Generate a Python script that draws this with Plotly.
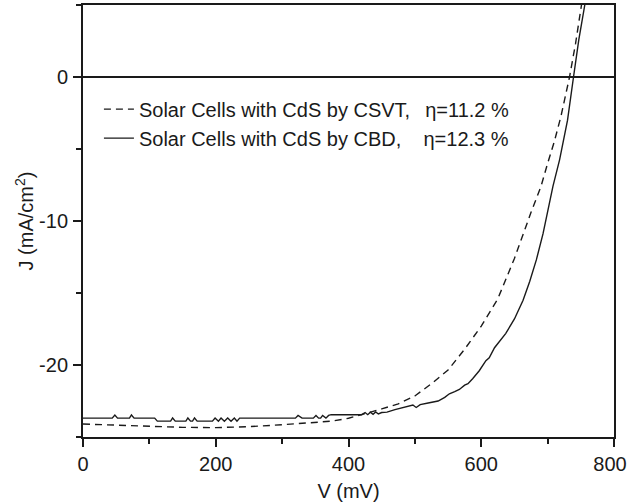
import plotly.graph_objects as go

# CSVT (dashed) curve
v_csvt = [0, 50, 100, 150, 200, 250, 300, 350, 375, 400, 425, 450, 475, 500, 525,
          550, 575, 600, 625, 650, 675, 690, 700, 710, 720, 733, 742, 751]
j_csvt = [-24.10, -24.18, -24.25, -24.33, -24.35, -24.28, -24.15, -24.0, -23.9, -23.7,
          -23.4, -23.05, -22.7, -22.15, -21.3, -20.35, -18.9, -17.3, -15.4, -12.6,
          -9.4, -7.6, -6.0, -4.5, -2.75, 0.0, 2.3, 5.0]

# CBD (solid) curve
v_cbd = [0, 44, 48, 52, 70, 73, 77, 108, 112, 132, 135, 139, 155, 158, 162, 165, 168, 172,
         195, 199, 204, 208, 213, 218, 223, 228, 232, 236, 320, 324, 330, 347, 351, 355,
         358, 361, 366, 370, 374, 420, 425, 429, 433, 437, 441, 445, 450, 458, 470, 477,
         490, 497, 502, 508, 520, 535, 545, 552, 560, 567, 575, 580, 587, 597, 607, 612,
         620, 630, 637, 650, 663, 673, 683, 693, 700, 708, 718, 730, 739, 747, 756]
j_cbd = [-23.69, -23.69, -23.47, -23.69, -23.69, -23.47, -23.69, -23.69, -23.9, -23.9,
         -23.68, -23.9, -23.9, -23.68, -23.9, -23.9, -23.68, -23.9, -23.9, -23.68, -23.9,
         -23.68, -23.9, -23.68, -23.9, -23.68, -23.9, -23.69, -23.69, -23.5, -23.69,
         -23.69, -23.5, -23.69, -23.69, -23.5, -23.69, -23.5, -23.45, -23.45, -23.3,
         -23.45, -23.28, -23.42, -23.26, -23.4, -23.3, -23.27, -23.1, -23.03, -22.9,
         -22.78, -22.95, -22.75, -22.64, -22.5, -22.25, -22.0, -21.85, -21.7, -21.4,
         -21.3, -20.95, -20.4, -19.7, -19.5, -18.8, -18.2, -17.8, -16.8, -15.5, -14.2,
         -12.7, -10.9, -9.3, -7.6, -5.75, -3.0, 0.0, 2.6, 5.0]

name_csvt = "Solar Cells with CdS by CSVT,\u00a0\u00a0\u2009η=11.2 %"
name_cbd = "Solar Cells with CdS by CBD,\u00a0\u00a0\u00a0\u00a0η=12.3 %"

x_ticks = [0, 200, 400, 600, 800]
x_tick_text = ["0", "200", "400", "600", "800\u2009\u2009"]
y_ticks = [-20, -10, 0]
y_tick_text = ["-20", "-10", "0"]

FONT = "Liberation Sans, Arial, sans-serif"
INK = "#1a1a1a"
FS = 20

fig = go.Figure()
fig.add_trace(go.Scatter(x=v_csvt, y=j_csvt, mode="lines", name=name_csvt,
                         line=dict(color=INK, width=1.4, dash="7px,5px")))
fig.add_trace(go.Scatter(x=v_cbd, y=j_cbd, mode="lines", name=name_cbd,
                         line=dict(color=INK, width=1.4)))

fig.update_layout(
    width=629, height=502,
    margin=dict(l=83, r=15, t=5, b=65, autoexpand=False),
    paper_bgcolor="white", plot_bgcolor="white",
    font=dict(family=FONT, size=FS, color=INK),
    showlegend=True,
    legend=dict(x=0.03, y=0.804, xanchor="left", yanchor="top",
                bgcolor="rgba(0,0,0,0)", borderwidth=0,
                font=dict(family=FONT, size=FS, color=INK),
                traceorder="normal"),
    xaxis=dict(range=[0, 800], tickvals=x_ticks, ticktext=x_tick_text,
               showgrid=False, zeroline=False,
               automargin=False, ticklabeloverflow="allow",
               showline=True, linecolor=INK, linewidth=2, mirror=True,
               ticks="outside", ticklen=8, tickwidth=2, tickcolor=INK,
               minor=dict(tickvals=[100, 300, 500, 700], ticks="outside", ticklen=5,
                          tickwidth=2, tickcolor=INK),
               title=dict(text="V (mV)", standoff=10, font=dict(size=FS)),
               ticklabelstandoff=0),
    yaxis=dict(range=[-25, 5], tickvals=y_ticks, ticktext=y_tick_text, showgrid=False,
               automargin=False, ticklabeloverflow="allow",
               zeroline=True, zerolinecolor=INK, zerolinewidth=2,
               showline=True, linecolor=INK, linewidth=2, mirror=True,
               ticks="outside", ticklen=8, tickwidth=2, tickcolor=INK,
               minor=dict(tickvals=[-25, -15, -5, 5], ticks="outside", ticklen=5,
                          tickwidth=2, tickcolor=INK),
               title=dict(text="J (mA/cm<sup>2</sup>)", standoff=0, font=dict(size=FS)),
               ticklabelstandoff=1),
)

fig.write_html("out.html",
               config={"displayModeBar": False},
               post_script="document.body.style.margin='0px';document.body.style.padding='0px';")
